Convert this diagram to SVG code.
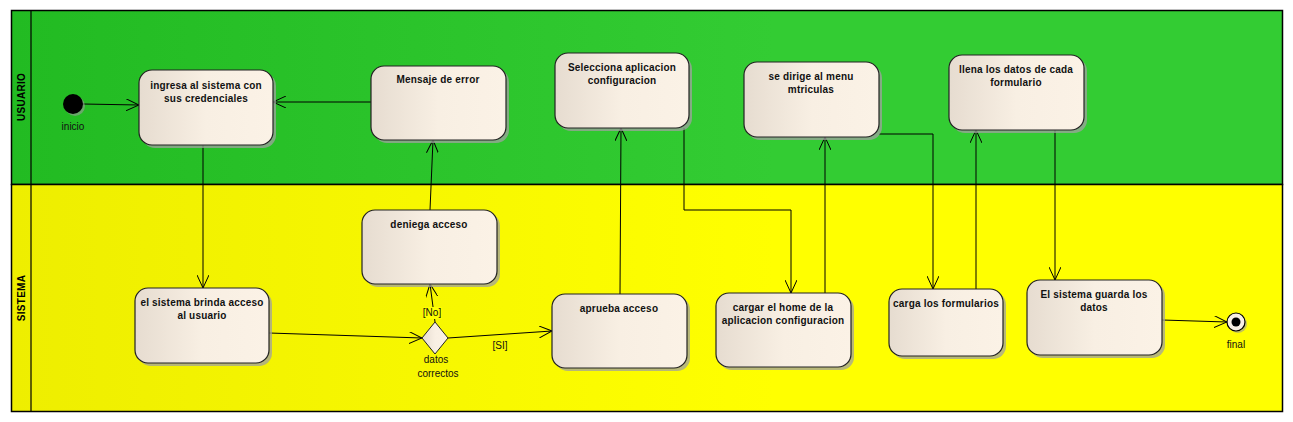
<svg xmlns="http://www.w3.org/2000/svg" width="1293" height="422" viewBox="0 0 1293 422">
<defs>
<linearGradient id="gGreen" x1="0" y1="0" x2="1" y2="0"><stop offset="0" stop-color="#22bb22"/><stop offset="0.6" stop-color="#33cc33"/><stop offset="1" stop-color="#33cc33"/></linearGradient>
<linearGradient id="gYellow" x1="0" y1="0" x2="1" y2="0"><stop offset="0" stop-color="#eeee00"/><stop offset="0.6" stop-color="#ffff00"/><stop offset="1" stop-color="#ffff00"/></linearGradient>
<linearGradient id="gNode" x1="0" y1="0" x2="1" y2="0"><stop offset="0" stop-color="#e6dcd0"/><stop offset="0.5" stop-color="#f8efe3"/><stop offset="1" stop-color="#fbf2e6"/></linearGradient>
<marker id="arr" viewBox="0 0 14 12" refX="13" refY="6" markerWidth="14" markerHeight="12" markerUnits="userSpaceOnUse" orient="auto">
<path d="M0,0 L13,6 L0,12" fill="none" stroke="#000" stroke-width="1"/>
</marker>
<style>
.lane{stroke:#000;stroke-width:1.5}
.lbl{font-family:"Liberation Sans",Arial,sans-serif;font-size:10px;font-weight:bold;fill:#000;letter-spacing:0.3px}
.act{fill:url(#gNode);stroke:#222;stroke-width:1.2}
.sh{fill:#a0a0a0;opacity:0.75}
.t{font-family:"Liberation Sans",Arial,sans-serif;font-size:10px;font-weight:bold;fill:#111;text-anchor:middle;letter-spacing:0.2px}
.s{font-family:"Liberation Sans",Arial,sans-serif;font-size:10px;fill:#111;text-anchor:middle}
.c{fill:none;stroke:#000;stroke-width:1;marker-end:url(#arr)}
</style>
</defs>
<g id="lanes">
<rect x="11.5" y="10.5" width="1271" height="174" fill="url(#gGreen)" class="lane"/>
<rect x="11.5" y="184.5" width="1271" height="227" fill="url(#gYellow)" class="lane"/>
<line x1="31" y1="10.5" x2="31" y2="411.5" stroke="#000" stroke-width="1.2"/>
<text class="lbl" transform="translate(25,97) rotate(-90)" text-anchor="middle">USUARIO</text>
<text class="lbl" transform="translate(25,298) rotate(-90)" text-anchor="middle">SISTEMA</text>
</g>
<g id="connectors">
<path class="c" d="M83,104 L139,105"/>
<path class="c" d="M371,102 L273,102"/>
<path class="c" d="M203,145 L203,288"/>
<path class="c" d="M269,333 L422,338"/>
<path class="c" d="M435,322 L430,284"/>
<path class="c" d="M430,210 L433,140"/>
<path class="c" d="M448,338 L552,331"/>
<path class="c" d="M620,294 L621,128"/>
<path class="c" d="M684,128 L684,210 L791,210 L791,293"/>
<path class="c" d="M825,293 L825,137"/>
<path class="c" d="M879,134 L933,134 L933,289"/>
<path class="c" d="M976,289 L976,130"/>
<path class="c" d="M1055,130 L1055,280"/>
<path class="c" d="M1162,320 L1227,322"/>
<rect x="423" y="307" width="19" height="12" fill="#ffff00"/>
<text class="s" x="432" y="316">[No]</text>
<text class="s" x="500" y="349">[SI]</text>
</g>
<g id="inicio">
<circle cx="75" cy="106" r="10" fill="#999" opacity="0.6"/>
<circle cx="73" cy="104" r="10" fill="#000"/>
<text class="s" x="73" y="130">inicio</text>
</g>
<g id="ingresa">
<rect class="sh" x="142" y="73" width="134" height="75" rx="13"/>
<rect class="act" x="139" y="70" width="134" height="75" rx="13"/>
<text class="t" x="206" y="89">ingresa al sistema con</text>
<text class="t" x="206" y="102">sus credenciales</text>
</g>
<g id="mensaje">
<rect class="sh" x="374" y="69" width="135" height="74" rx="13"/>
<rect class="act" x="371" y="66" width="135" height="74" rx="13"/>
<text class="t" x="438" y="83">Mensaje de error</text>
</g>
<g id="selecciona">
<rect class="sh" x="558" y="56" width="134" height="75" rx="13"/>
<rect class="act" x="555" y="53" width="134" height="75" rx="13"/>
<text class="t" x="622" y="71">Selecciona aplicacion</text>
<text class="t" x="622" y="84">configuracion</text>
</g>
<g id="sedirige">
<rect class="sh" x="747" y="65" width="135" height="75" rx="13"/>
<rect class="act" x="744" y="62" width="135" height="75" rx="13"/>
<text class="t" x="811" y="80">se dirige al menu</text>
<text class="t" x="811" y="93">mtriculas</text>
</g>
<g id="llena">
<rect class="sh" x="952" y="58" width="135" height="75" rx="13"/>
<rect class="act" x="949" y="55" width="135" height="75" rx="13"/>
<text class="t" x="1016" y="73">llena los datos de cada</text>
<text class="t" x="1016" y="86">formulario</text>
</g>
<g id="brinda">
<rect class="sh" x="138" y="291" width="134" height="75" rx="13"/>
<rect class="act" x="135" y="288" width="134" height="75" rx="13"/>
<text class="t" x="202" y="306">el sistema brinda acceso</text>
<text class="t" x="202" y="319">al usuario</text>
</g>
<g id="deniega">
<rect class="sh" x="365" y="213" width="135" height="74" rx="13"/>
<rect class="act" x="362" y="210" width="135" height="74" rx="13"/>
<text class="t" x="429" y="228">deniega acceso</text>
</g>
<g id="decision">
<path d="M435,322 L448,338 L435,354 L422,338 Z" fill="url(#gNode)" stroke="#222" stroke-width="1"/>
<text class="s" x="436" y="363">datos</text>
<text class="s" x="438" y="377">correctos</text>
</g>
<g id="aprueba">
<rect class="sh" x="555" y="297" width="135" height="74" rx="13"/>
<rect class="act" x="552" y="294" width="135" height="74" rx="13"/>
<text class="t" x="619" y="312">aprueba acceso</text>
</g>
<g id="cargar">
<rect class="sh" x="719" y="296" width="135" height="74" rx="13"/>
<rect class="act" x="716" y="293" width="135" height="74" rx="13"/>
<text class="t" x="783" y="311">cargar el home de la</text>
<text class="t" x="783" y="324">aplicacion configuracion</text>
</g>
<g id="carga">
<rect class="sh" x="892" y="292" width="114" height="67" rx="13"/>
<rect class="act" x="889" y="289" width="114" height="67" rx="13"/>
<text class="t" x="946" y="307">carga los formularios</text>
</g>
<g id="guarda">
<rect class="sh" x="1030" y="283" width="135" height="75" rx="13"/>
<rect class="act" x="1027" y="280" width="135" height="75" rx="13"/>
<text class="t" x="1094" y="298">El sistema guarda los</text>
<text class="t" x="1094" y="311">datos</text>
</g>
<g id="final">
<circle cx="1238" cy="324" r="9" fill="#999" opacity="0.6"/>
<circle cx="1236" cy="322" r="9" fill="#f8efe3" stroke="#000" stroke-width="1.2"/>
<circle cx="1236" cy="322" r="4.5" fill="#000"/>
<text class="s" x="1236" y="348">final</text>
</g>
</svg>
